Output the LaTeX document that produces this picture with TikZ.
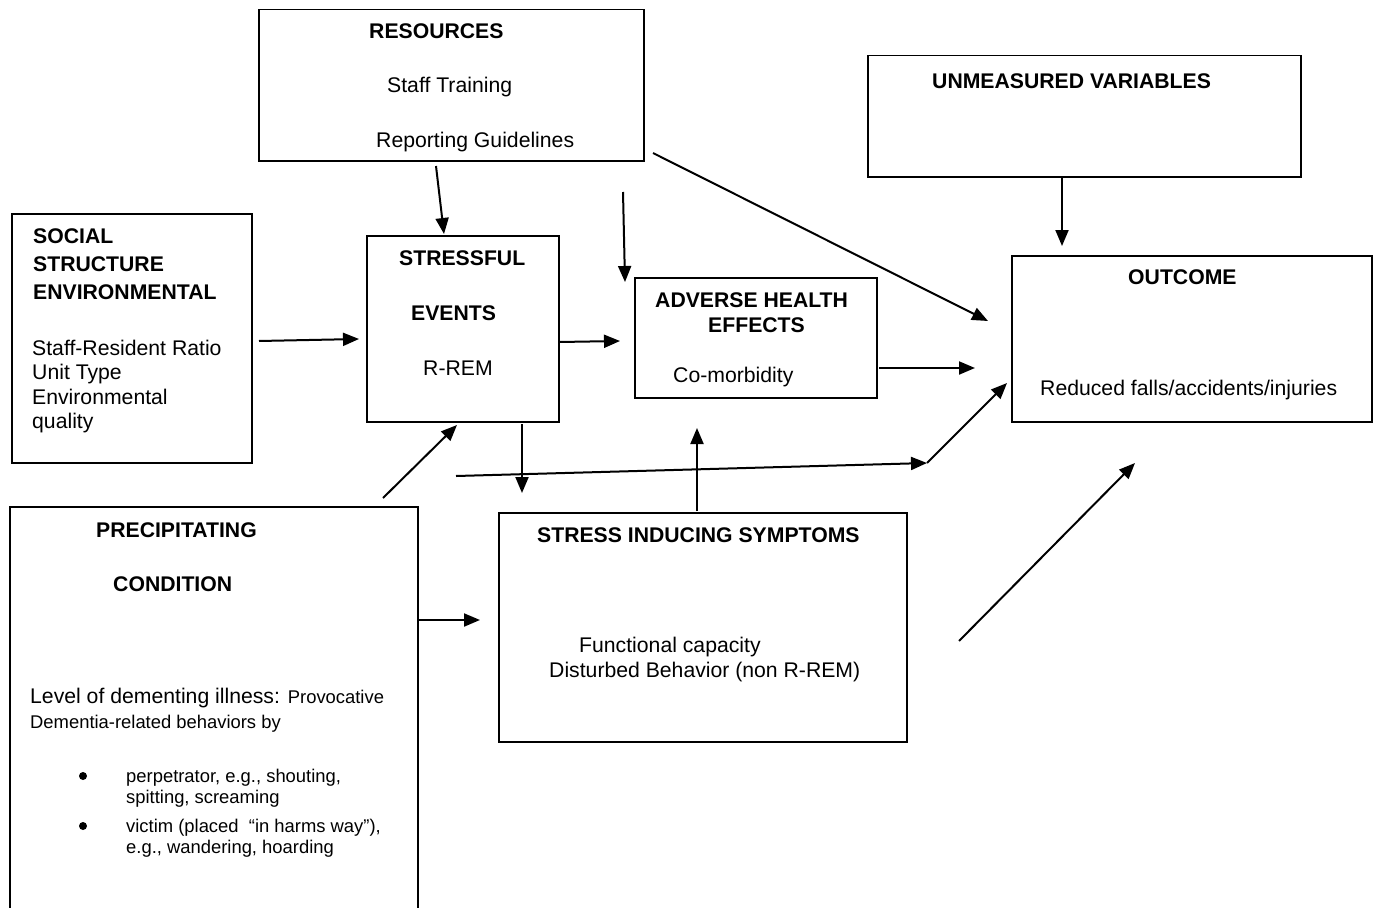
\documentclass[tikz,border=0pt]{standalone}
\usepackage{fontspec}
\setmainfont{Liberation Sans}
\usetikzlibrary{arrows.meta}
\begin{document}
\begin{tikzpicture}[x=1pt,y=-1pt,
  box/.style={draw, line width=1.5pt, inner sep=0pt, anchor=north west},
  lbl/.style={inner sep=0pt, anchor=base west, font=\fontsize{21.2}{24}\selectfont},
  ttl/.style={inner sep=0pt, anchor=base west, font=\fontsize{21.2}{24}\selectfont\bfseries},
  sml/.style={inner sep=0pt, anchor=base west, font=\fontsize{18.4}{21}\selectfont},
  bulletdot/.style={circle, fill, inner sep=0pt, minimum size=8pt},
  arr/.style={line width=2pt, -{Triangle[length=16pt,width=13pt]}}]
\useasboundingbox (0,0) rectangle (1380,907);

% ---- boxes ----
\node[box, minimum width=385pt, minimum height=151pt] (res) at (258,9) {};
\node[box, minimum width=433pt, minimum height=121pt] (unm) at (867,55) {};
\node[box, minimum width=240pt, minimum height=249pt] (soc) at (11,213) {};
\node[box, minimum width=192pt, minimum height=186pt] (str) at (366,235) {};
\node[box, minimum width=242pt, minimum height=120pt] (adv) at (634,277) {};
\node[box, minimum width=360pt, minimum height=166pt] (out) at (1011,255) {};
\node[box, minimum width=408pt, minimum height=410pt] (pre) at (9,506) {};
\node[box, minimum width=408pt, minimum height=229pt] (sym) at (498,512) {};

% ---- resources ----
\node[ttl] (resT) at (369,38) {RESOURCES};
\node[lbl] (resA) at (387,92) {Staff Training};
\node[lbl] (resB) at (376,147) {Reporting Guidelines};

% ---- unmeasured variables ----
\node[ttl] (unmT) at (932,88) {UNMEASURED VARIABLES};

% ---- social structure ----
\node[ttl] (socT1) at (33,243.5) {SOCIAL};
\node[ttl] (socT2) at (33,271.5) {STRUCTURE};
\node[ttl] (socT3) at (33,299.5) {ENVIRONMENTAL};
\node[lbl] (socA) at (32,355) {Staff-Resident Ratio};
\node[lbl] (socB) at (32,379.5) {Unit Type};
\node[lbl] (socC) at (32,404) {Environmental};
\node[lbl] (socD) at (32,428.5) {quality};

% ---- stressful events ----
\node[ttl] (strT1) at (399,265) {STRESSFUL};
\node[ttl] (strT2) at (411,320) {EVENTS};
\node[lbl] (strA) at (423,375) {R-REM};

% ---- adverse health effects ----
\node[ttl] (advT1) at (655,307) {ADVERSE HEALTH};
\node[ttl] (advT2) at (708,332) {EFFECTS};
\node[lbl] (advA) at (673,382) {Co-morbidity};

% ---- outcome ----
\node[ttl] (outT) at (1128,284) {OUTCOME};
\node[lbl] (outA) at (1040,395) {Reduced falls/accidents/injuries};

% ---- precipitating condition ----
\node[ttl] (preT1) at (96,537) {PRECIPITATING};
\node[ttl] (preT2) at (113,591) {CONDITION};
\node[lbl] (preA) at (30,703) {Level of dementing illness: {\fontsize{18.4}{21}\selectfont Provocative}};
\node[sml] (preB) at (30,728) {Dementia-related behaviors by};
\node[bulletdot] (bul1) at (83,776) {};
\node[sml] (preC1) at (126,782) {perpetrator, e.g., shouting,};
\node[sml] (preC2) at (126,803) {spitting, screaming};
\node[bulletdot] (bul2) at (83,826) {};
\node[sml] (preD1) at (126,832) {victim (placed\ \ “in harms way”),};
\node[sml] (preD2) at (126,853) {e.g., wandering, hoarding};

% ---- stress inducing symptoms ----
\node[ttl] (symT) at (537,542) {STRESS INDUCING SYMPTOMS};
\node[lbl] (symA) at (579,652) {Functional capacity};
\node[lbl] (symB) at (549,677) {Disturbed Behavior (non R-REM)};

% ---- connector end points ----
\coordinate (c1a) at (436,166);  \coordinate (c1b) at (444,234);
\coordinate (c2a) at (623,192);  \coordinate (c2b) at (625,282);
\coordinate (c3a) at (259,341);  \coordinate (c3b) at (359,339);
\coordinate (c4a) at (559,342);  \coordinate (c4b) at (620,341);
\coordinate (c5a) at (522,424);  \coordinate (c5b) at (522,493);
\coordinate (c6a) at (383,498);  \coordinate (c6b) at (457,425);
\coordinate (c7a) at (456,476);  \coordinate (c7m) at (927,463);
\coordinate (c7b) at (1007,383);
\coordinate (c8a) at (879,368);  \coordinate (c8b) at (975,368);
\coordinate (c9a) at (653,153);  \coordinate (c9b) at (988,321);
\coordinate (c10a) at (1062,176); \coordinate (c10b) at (1062,246);
\coordinate (c11a) at (697,511); \coordinate (c11b) at (697,428);
\coordinate (c12a) at (417,620); \coordinate (c12b) at (480,620);
\coordinate (c13a) at (959,641); \coordinate (c13b) at (1135,463);

% ---- connectors ----
\draw[arr] (c1a) -- (c1b);
\draw[arr] (c2a) -- (c2b);
\draw[arr] (c3a) -- (c3b);
\draw[arr] (c4a) -- (c4b);
\draw[arr] (c5a) -- (c5b);
\draw[arr] (c6a) -- (c6b);
\draw[arr] (c7a) -- (c7m);
\draw[arr] (c7m) -- (c7b);
\draw[arr] (c8a) -- (c8b);
\draw[arr] (c9a) -- (c9b);
\draw[arr] (c10a) -- (c10b);
\draw[arr] (c11a) -- (c11b);
\draw[arr] (c12a) -- (c12b);
\draw[arr] (c13a) -- (c13b);
\end{tikzpicture}
\end{document}
